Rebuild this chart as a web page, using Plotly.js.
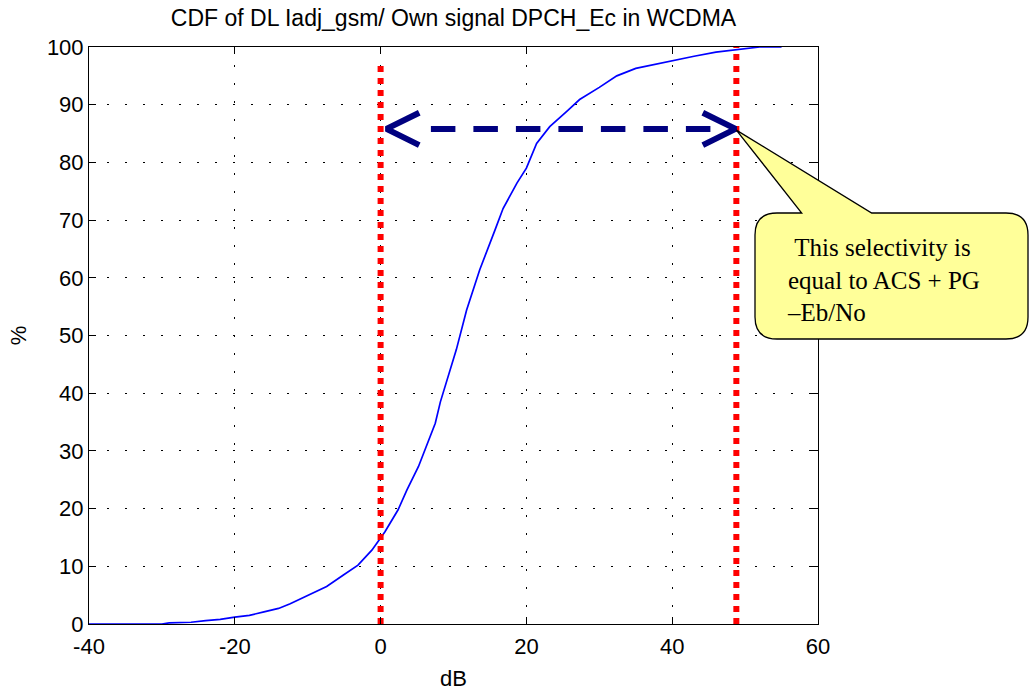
<!DOCTYPE html>
<html>
<head>
<meta charset="utf-8">
<script src="https://cdn.plot.ly/plotly-3.0.1.min.js"></script>
<style>html,body{margin:0;padding:0;background:#fff}#chart{width:1029px;height:691px}</style>
</head>
<body>
<div id="chart"></div>
<script>
// ---- data ----
const cdfX = [-40,-30,-29,-26,-24,-22,-20,-18,-16,-14,-12.4,-10.1,-7.4,-5.1,-3.1,-1.2,0.6,2.4,3.6,5.2,6.3,7.5,8.2,10.4,11.8,13.6,15.7,16.8,18.7,20,21.4,23.2,25.5,27.3,30,32.4,35,38,40,43,46,49,52,55];
const cdfY = [0,0,0.2,0.3,0.6,0.8,1.2,1.5,2.1,2.7,3.5,4.9,6.5,8.5,10.2,12.8,16,19.8,23.2,27.3,31,34.8,38.5,47.6,54.4,61.4,68.3,72,76.4,79,83.3,86.2,88.8,90.9,93,95,96.3,97.1,97.6,98.4,99.1,99.6,100,100];
const markerLeftX = [0, 0];
const markerLeftY = [0, 97.7];
const markerRightX = [48.8, 48.8];
const markerRightY = [0, 100];
const arrowLevel = 85.8;
const arrowTipsX = [0.8, 48.7];
const arrowShaftX = [6.9, 45.5];
const chevronDX = 4.5;
const chevronDY = 2.8;
const xTicks = [-40, -20, 0, 20, 40, 60];
const yTicks = [0,10,20,30,40,50,60,70,80,90,100];
const titleText = 'CDF of DL Iadj_gsm/ Own signal DPCH_Ec in WCDMA';
const calloutText = '\u00a0This selectivity is<br>equal to ACS + PG<br>\u2013Eb/No';

const xRange = [-40, 60], yRange = [0, 100];
const M = {l: 89, r: 211, t: 47, b: 67};
const W = 1029, H = 691;
const pw = W - M.l - M.r, ph = H - M.t - M.b;
const PX = x => (x - M.l) / pw;
const PY = y => (H - M.b - y) / ph;
const DX = v => (v - xRange[0]) / (xRange[1] - xRange[0]);
const DY = v => (v - yRange[0]) / (yRange[1] - yRange[0]);

const navy = '#000080';
const traces = [
  {x: cdfX, y: cdfY, mode: 'lines', line: {color: '#0000ff', width: 1.7}, hoverinfo: 'skip'},
  {x: markerLeftX, y: markerLeftY, mode: 'lines', line: {color: '#ff0000', width: 6, dash: '6px,6px'}},
  {x: markerRightX, y: markerRightY, mode: 'lines', line: {color: '#ff0000', width: 6, dash: '6px,6px'}},
  {x: arrowShaftX, y: [arrowLevel, arrowLevel], mode: 'lines', line: {color: navy, width: 6, dash: '24.5px,18px'}},
  {x: [arrowTipsX[0] + chevronDX, arrowTipsX[0], arrowTipsX[0] + chevronDX],
   y: [arrowLevel + chevronDY, arrowLevel, arrowLevel - chevronDY], mode: 'lines', line: {color: navy, width: 6}},
  {x: [arrowTipsX[1] - chevronDX, arrowTipsX[1], arrowTipsX[1] - chevronDX],
   y: [arrowLevel + chevronDY, arrowLevel, arrowLevel - chevronDY], mode: 'lines', line: {color: navy, width: 6}}
];

// callout box (pixel geometry of the note), tail pointing at the right marker
const bL = 755, bR = 1028, bT = 213, bB = 339, r = 22;
const tipX = DX(markerRightX[0]), tipY = DY(arrowLevel - 0.2);
const p = (x, y) => x.toFixed(5) + ',' + y.toFixed(5);
const path = 'M' + p(PX(bL + r), PY(bT)) +
  ' L' + p(PX(801.7), PY(bT)) +
  ' L' + p(tipX, tipY) +
  ' L' + p(PX(871.7), PY(bT)) +
  ' L' + p(PX(bR - r), PY(bT)) +
  ' Q' + p(PX(bR), PY(bT)) + ' ' + p(PX(bR), PY(bT + r)) +
  ' L' + p(PX(bR), PY(bB - r)) +
  ' Q' + p(PX(bR), PY(bB)) + ' ' + p(PX(bR - r), PY(bB)) +
  ' L' + p(PX(bL + r), PY(bB)) +
  ' Q' + p(PX(bL), PY(bB)) + ' ' + p(PX(bL), PY(bB - r)) +
  ' L' + p(PX(bL), PY(bT + r)) +
  ' Q' + p(PX(bL), PY(bT)) + ' ' + p(PX(bL + r), PY(bT)) + ' Z';

const font = {family: 'Liberation Sans, Arial, sans-serif', size: 22, color: '#000'};
const axisCommon = {
  showgrid: true, gridcolor: '#000', gridwidth: 1, griddash: '2px,16px',
  ticks: 'inside', ticklen: 7, tickwidth: 1, tickcolor: '#000',
  showline: true, linecolor: '#000', linewidth: 1, mirror: 'allticks',
  zeroline: false, tickfont: font
};
const layout = {
  width: W, height: H, margin: M,
  paper_bgcolor: '#fff', plot_bgcolor: '#fff',
  showlegend: false,
  title: {text: titleText, font: {family: 'Liberation Sans, Arial, sans-serif', size: 23, color: '#000'},
          x: 0.5, xref: 'paper', y: 1 - 18 / H, yref: 'container', yanchor: 'middle'},
  xaxis: Object.assign({}, axisCommon, {range: xRange, tickvals: xTicks, ticktext: xTicks.map(String),
          ticklabelstandoff: 3,
          title: {text: 'dB', font: font, standoff: 16}}),
  yaxis: Object.assign({}, axisCommon, {range: yRange, tickvals: yTicks, ticktext: yTicks.map(String),
          title: {text: '%', font: font, standoff: 14}}),
  shapes: [{type: 'path', xref: 'paper', yref: 'paper', path: path, layer: 'above',
            fillcolor: '#ffff99', line: {color: '#000', width: 1.3}}],
  annotations: [{xref: 'paper', yref: 'paper', x: PX(785), y: PY(280), xanchor: 'left', yanchor: 'middle',
                 align: 'left', showarrow: false, text: calloutText,
                 font: {family: 'Liberation Serif, Times New Roman, serif', size: 25, color: '#000'}}]
};
Plotly.newPlot('chart', traces, layout, {displayModeBar: false, staticPlot: true});
</script>
</body>
</html>
